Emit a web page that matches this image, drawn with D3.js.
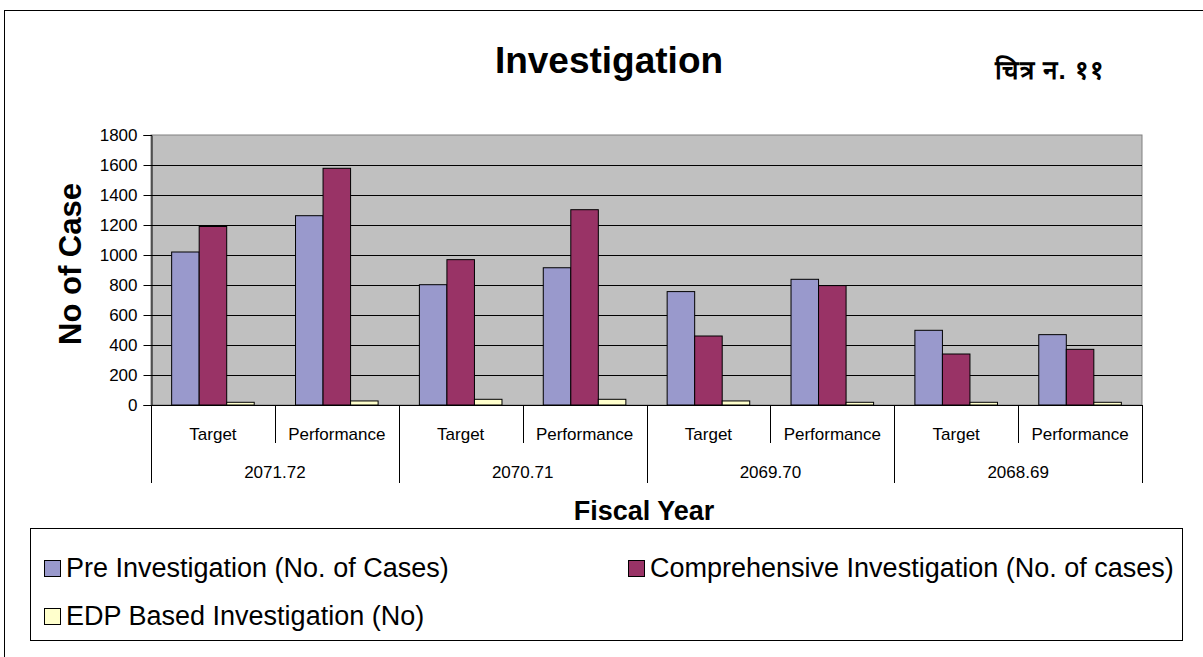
<!DOCTYPE html>
<html>
<head>
<meta charset="utf-8">
<script src="https://cdn.jsdelivr.net/npm/d3@7"></script>
<style>
  body { margin: 0; background: #fff; }
  svg text { font-family: "Liberation Sans", Arial, sans-serif; }
</style>
</head>
<body>
<svg id="chart" width="1203" height="657"></svg>
<script>
// data
const years = ["2071.72", "2070.71", "2069.70", "2068.69"];
const kinds = ["Target", "Performance"];
const seriesNames = ["Pre Investigation (No. of Cases)", "Comprehensive Investigation (No. of cases)", "EDP Based Investigation (No)"];
const seriesColors = ["#9999CC", "#993366", "#FFFFCC"];
const preInv = [1020, 1262, 802, 915, 756, 838, 498, 469];
const compInv = [1190, 1578, 969, 1302, 460, 796, 340, 371];
const edpInv = [18, 27, 38, 38, 27, 18, 18, 18];
const yTicks = [0, 200, 400, 600, 800, 1000, 1200, 1400, 1600, 1800];

const categories = [];
years.forEach(y => kinds.forEach(k => categories.push(y + "|" + k)));
const allSeries = [preInv, compInv, edpInv];

const svg = d3.select("#chart");

// outer frame
svg.append("rect")
  .attr("x", 4.5).attr("y", 10.5)
  .attr("width", 1250).attr("height", 700)
  .attr("fill", "none").attr("stroke", "#000");

const plotL = 151, plotR = 1142, plotT = 135, plotB = 405;

const x = d3.scaleBand().domain(categories).range([plotL, plotR]).paddingInner(0).paddingOuter(0);
const y = d3.scaleLinear().domain([0, 1800]).range([plotB, plotT]);
const barW = x.bandwidth() / 4.5;

// plot area
svg.append("rect")
  .attr("x", plotL).attr("y", plotT)
  .attr("width", plotR - plotL).attr("height", plotB - plotT)
  .attr("fill", "#C0C0C0").attr("stroke", "#808080");

// gridlines
svg.append("g")
  .selectAll("line")
  .data(yTicks.filter(t => t > 0 && t < 1800))
  .enter()
  .append("line")
  .attr("x1", plotL).attr("x2", plotR)
  .attr("y1", d => Math.round(y(d)) + 0.5).attr("y2", d => Math.round(y(d)) + 0.5)
  .attr("stroke", "#000");

// bars
allSeries.forEach((vals, si) => {
  svg.append("g")
    .selectAll("rect")
    .data(vals)
    .enter()
    .append("rect")
    .attr("x", (d, i) => x(categories[i]) + barW * 0.75 + si * barW)
    .attr("y", d => y(d))
    .attr("width", barW)
    .attr("height", d => plotB - y(d))
    .attr("fill", seriesColors[si])
    .attr("stroke", "#000")
    .attr("stroke-width", 1);
});

// y axis
const yAxis = d3.axisLeft(y).tickValues(yTicks).tickSize(8).tickPadding(6).tickFormat(d3.format("d"));
const ya = svg.append("g").attr("transform", `translate(${plotL + 0.5},0)`).call(yAxis);
ya.select(".domain").attr("stroke", "#000");
ya.selectAll("text").attr("font-size", 17).attr("fill", "#000")
  .style("font-family", "'Liberation Sans', Arial, sans-serif");

// x axis base line
svg.append("line")
  .attr("x1", plotL).attr("x2", plotR)
  .attr("y1", plotB + 0.5).attr("y2", plotB + 0.5)
  .attr("stroke", "#000");

// category dividers
categories.forEach((c, i) => {
  const isYear = i % 2 === 0;
  svg.append("line")
    .attr("x1", Math.round(x(c)) + 0.5).attr("x2", Math.round(x(c)) + 0.5)
    .attr("y1", plotB).attr("y2", isYear ? 483 : 443)
    .attr("stroke", "#000");
});
svg.append("line")
  .attr("x1", plotR + 0.5).attr("x2", plotR + 0.5)
  .attr("y1", plotB).attr("y2", 483)
  .attr("stroke", "#000");

// category labels
svg.append("g")
  .selectAll("text")
  .data(categories)
  .enter()
  .append("text")
  .attr("x", d => x(d) + x.bandwidth() / 2)
  .attr("y", 440)
  .attr("text-anchor", "middle")
  .attr("font-size", 17)
  .text(d => d.split("|")[1]);

svg.append("g")
  .selectAll("text")
  .data(years)
  .enter()
  .append("text")
  .attr("x", d => x(d + "|Target") + x.bandwidth())
  .attr("y", 478)
  .attr("text-anchor", "middle")
  .attr("font-size", 17)
  .text(d => d);

// titles
svg.append("text")
  .attr("x", 609).attr("y", 73)
  .attr("text-anchor", "middle")
  .attr("font-size", 37).attr("font-weight", "bold")
  .text("Investigation");

svg.append("text")
  .attr("x", 1050).attr("y", 79)
  .attr("text-anchor", "middle")
  .attr("font-size", 26).attr("font-weight", "bold")
  .attr("letter-spacing", 1)
  .text("चित्र न. ११");

svg.append("text")
  .attr("transform", "translate(81,264) rotate(-90)")
  .attr("text-anchor", "middle")
  .attr("font-size", 31).attr("font-weight", "bold")
  .text("No of Case");

svg.append("text")
  .attr("x", 644).attr("y", 520)
  .attr("text-anchor", "middle")
  .attr("font-size", 27).attr("font-weight", "bold")
  .text("Fiscal Year");

// legend
svg.append("rect")
  .attr("x", 30.5).attr("y", 528.5)
  .attr("width", 1152).attr("height", 112)
  .attr("fill", "#fff").attr("stroke", "#000");

const legendPos = [[44, 577], [628, 577], [44, 625]];
seriesNames.forEach((name, i) => {
  const g = svg.append("g").attr("transform", `translate(${legendPos[i][0]},${legendPos[i][1]})`);
  g.append("rect")
    .attr("x", 0.5).attr("y", -16.5)
    .attr("width", 16).attr("height", 16)
    .attr("fill", seriesColors[i]).attr("stroke", "#000");
  g.append("text")
    .attr("x", 22).attr("y", 0)
    .attr("font-size", 27)
    .text(name);
});
</script>
</body>
</html>
